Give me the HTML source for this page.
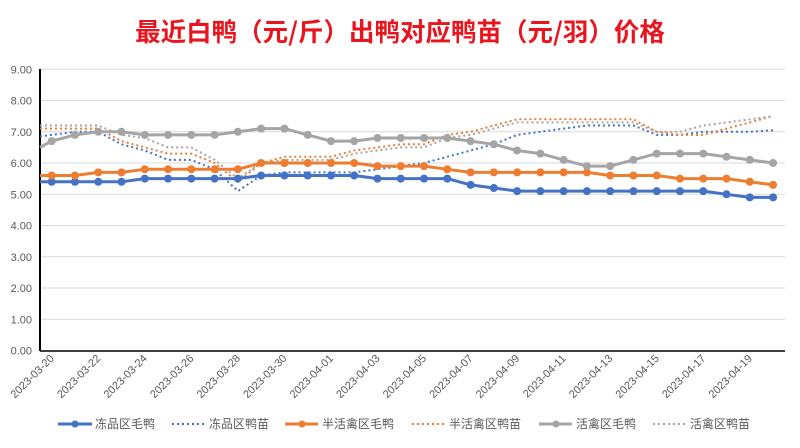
<!DOCTYPE html>
<html><head><meta charset="utf-8"><style>
body{margin:0;background:#fff;}
svg text{font-family:"Liberation Sans","Noto Sans CJK SC",sans-serif;}
</style></head><body>
<svg width="800" height="443" viewBox="0 0 800 443" xmlns="http://www.w3.org/2000/svg">
<rect width="800" height="443" fill="#fff"/>
<text x="400" y="41" text-anchor="middle" font-size="25.5" font-weight="bold" fill="#e8141e" style="font-family:'Noto Sans CJK SC',sans-serif">最近白鸭（元/斤）出鸭对应鸭苗（元/羽）价格</text>
<g id="grid" stroke="#d9d9d9" stroke-width="1"></g>
<g id="yl" font-size="11" fill="#595959" text-anchor="end"></g>
<g id="xl" font-size="11" fill="#595959"></g>
<line x1="40" y1="69" x2="40" y2="351" stroke="#000" stroke-width="2"/>
<line x1="40" y1="351" x2="785" y2="351" stroke="#000" stroke-width="1.5"/>
<g id="series"></g>
<g font-size="12" fill="#595959">
<line x1="58" y1="424" x2="92" y2="424" stroke="#4472c4" stroke-width="3"/><circle cx="75" cy="424" r="3.5" fill="#4472c4"/><text x="95" y="428">冻品区毛鸭</text>
<line x1="172" y1="424" x2="205" y2="424" stroke="#4472c4" stroke-width="2" stroke-dasharray="2,3"/><text x="209" y="428">冻品区鸭苗</text>
<line x1="285" y1="424" x2="318" y2="424" stroke="#ed7d31" stroke-width="3"/><circle cx="302" cy="424" r="3.5" fill="#ed7d31"/><text x="322" y="428">半活禽区毛鸭</text>
<line x1="412" y1="424" x2="445" y2="424" stroke="#ed7d31" stroke-width="2" stroke-dasharray="2,3"/><text x="449" y="428">半活禽区鸭苗</text>
<line x1="539" y1="424" x2="572" y2="424" stroke="#a5a5a5" stroke-width="3"/><circle cx="556" cy="424" r="3.5" fill="#a5a5a5"/><text x="576" y="428">活禽区毛鸭</text>
<line x1="653" y1="424" x2="686" y2="424" stroke="#a5a5a5" stroke-width="2" stroke-dasharray="2,3"/><text x="690" y="428">活禽区鸭苗</text>
</g>
</svg>
<script>
const NS="http://www.w3.org/2000/svg";
function el(p,t,a,txt){const e=document.createElementNS(NS,t);for(const k in a)e.setAttribute(k,a[k]);if(txt)e.textContent=txt;document.getElementById(p).appendChild(e);return e;}
const Y=v=>350.5-v*31.25, X=i=>51.7+23.27*i;
for(let v=0;v<=9;v++){if(v>0)el("grid","line",{x1:40,x2:785,y1:Y(v),y2:Y(v)});el("yl","text",{x:32,y:Y(v)+4},v.toFixed(2));}
const dates=["2023-03-20","2023-03-22","2023-03-24","2023-03-26","2023-03-28","2023-03-30","2023-04-01","2023-04-03","2023-04-05","2023-04-07","2023-04-09","2023-04-11","2023-04-13","2023-04-15","2023-04-17","2023-04-19"];
dates.forEach((d,k)=>{const x=X(2*k)+3,y=359;el("xl","text",{x:x,y:y,"text-anchor":"end",transform:`rotate(-45 ${x} ${y})`},d);});
const S=[
 {c:"#4472c4",s:0,lead:5.4,d:[5.4,5.4,5.4,5.4,5.5,5.5,5.5,5.5,5.5,5.6,5.6,5.6,5.6,5.6,5.5,5.5,5.5,5.5,5.3,5.2,5.1,5.1,5.1,5.1,5.1,5.1,5.1,5.1,5.1,5.0,4.9,4.9]},
 {c:"#4472c4",s:1,lead:6.85,d:[6.9,7.0,7.0,6.6,6.4,6.1,6.1,5.8,5.1,5.6,5.7,5.7,5.7,5.7,5.8,5.9,6.0,6.2,6.4,6.6,6.9,7.0,7.1,7.2,7.2,7.2,6.9,6.9,7.0,7.0,7.0,7.05]},
 {c:"#ed7d31",s:0,lead:5.6,d:[5.6,5.6,5.7,5.7,5.8,5.8,5.8,5.8,5.8,6.0,6.0,6.0,6.0,6.0,5.9,5.9,5.9,5.8,5.7,5.7,5.7,5.7,5.7,5.7,5.6,5.6,5.6,5.5,5.5,5.5,5.4,5.3]},
 {c:"#ed7d31",s:1,lead:7.1,d:[7.1,7.1,7.1,6.7,6.5,6.3,6.3,6.0,5.4,6.0,6.2,6.2,6.2,6.4,6.5,6.6,6.6,6.9,7.0,7.2,7.4,7.4,7.4,7.4,7.4,7.4,7.0,6.9,6.9,7.1,7.3,7.5]},
 {c:"#a5a5a5",s:0,lead:6.5,d:[6.7,6.9,7.0,7.0,6.9,6.9,6.9,6.9,7.0,7.1,7.1,6.9,6.7,6.7,6.8,6.8,6.8,6.8,6.7,6.6,6.4,6.3,6.1,5.9,5.9,6.1,6.3,6.3,6.3,6.2,6.1,6.0]},
 {c:"#a5a5a5",s:1,lead:7.2,d:[7.2,7.2,7.2,6.9,6.8,6.5,6.5,6.1,5.5,6.0,6.1,6.1,6.1,6.3,6.4,6.5,6.5,6.8,6.9,7.1,7.3,7.3,7.3,7.3,7.3,7.3,7.0,7.0,7.2,7.3,7.4,7.5]}
];
[1,3,5,0,2,4].forEach(j=>{const s=S[j];let pts=`40,${Y(s.lead)} `+s.d.map((v,i)=>`${X(i).toFixed(1)},${Y(v).toFixed(1)}`).join(" ");
 if(s.s){el("series","polyline",{points:pts,fill:"none",stroke:s.c,"stroke-width":2,"stroke-dasharray":"2,3"});}
 else{el("series","polyline",{points:pts,fill:"none",stroke:s.c,"stroke-width":3,"stroke-linejoin":"round"});s.d.forEach((v,i)=>el("series","circle",{cx:X(i),cy:Y(v),r:4,fill:s.c}));}
});
</script>
</body></html>
